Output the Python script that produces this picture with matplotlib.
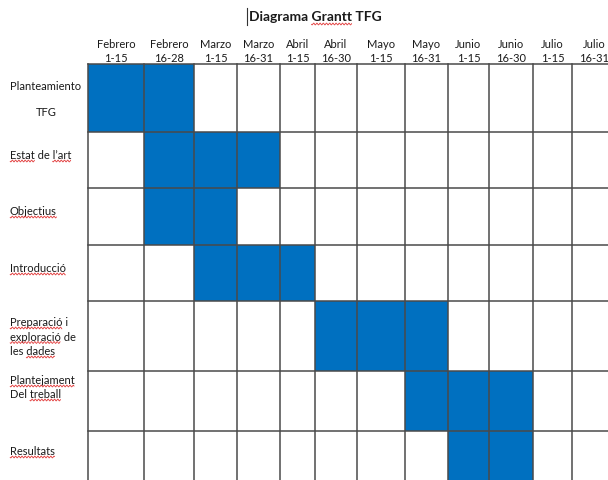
import numpy as np
import matplotlib
matplotlib.use("Agg")
import matplotlib.pyplot as plt
from matplotlib.textpath import TextToPath
from matplotlib.font_manager import FontProperties

# --- schedule data ---
periods = ["Febrero", "Febrero", "Marzo", "Marzo", "Abril", "Abril",
           "Mayo", "Mayo", "Junio", "Junio", "Julio", "Julio"]
ranges = ["1-15", "16-28", "1-15", "16-31", "1-15", "16-30",
          "1-15", "16-31", "1-15", "16-30", "1-15", "16-31"]
tasks = ["Planteamiento\n\nTFG", "Estat de l\u2019art", "Objectius", "Introducci\u00f3",
         "Preparaci\u00f3 i\nexploraci\u00f3 de\nles dades", "Plantejament\nDel treball",
         "Resultats"]
task_start = [0, 1, 1, 2, 5, 7, 8]      # index of first half-month period
task_length = [2, 3, 2, 3, 3, 3, 2]     # number of half-month periods

# words flagged by the spell checker (red wavy underline)
flagged = ["Estat", "l\u2019art", "Objectius", "Introducci\u00f3", "Preparaci\u00f3",
           "exploraci\u00f3", "dades", "Plantejament", "treball", "Resultats"]

# --- layout (pixel grid of the table) ---
W, H = 608, 481
col_edges = [88, 144, 194, 237, 280, 315, 357, 405, 448, 489, 533, 572, 625]
row_edges = [65, 133, 189, 246, 302, 372, 432, 500]
label_first_y = [86, 156, 212, 269, 323, 381, 452]
label_line_step = [13.5, 14, 14, 14, 14.5, 14, 14]

BLUE = "#0070C0"
GRID = "#4a4a4a"
TXT = "#1a1a1a"
FONT = "Lato"
FS = 8.0

fig = plt.figure(figsize=(W / 100, H / 100), dpi=100)
ax = fig.add_axes([0, 0, 1, 1])
ax.set_xlim(0, W)
ax.set_ylim(H, 0)
ax.axis("off")

prop = FontProperties(family=FONT, size=FS)
t2p = TextToPath()


def text_px_width(s, fp):
    w, h, d = t2p.get_text_width_height_descent(s, fp, ismath=False)
    return w * 100 / 72.0


def wavy(x0, x1, y):
    xs = np.linspace(x0, x1, max(int((x1 - x0) * 3), 4))
    ys = y + 0.9 * np.sin(2 * np.pi * (xs - x0) / 3.2)
    ax.plot(xs, ys, color="#e23b3b", lw=0.6, solid_capstyle="butt", zorder=5)


# bars
for i, (s, n) in enumerate(zip(task_start, task_length)):
    cells = [(col_edges[j], col_edges[j + 1] - col_edges[j]) for j in range(s, s + n)]
    ax.broken_barh(cells, (row_edges[i], row_edges[i + 1] - row_edges[i]),
                   facecolors=BLUE, edgecolor="none", zorder=2)

# table grid
for x in col_edges:
    ax.plot([x, x], [row_edges[0], row_edges[-1]], color=GRID, lw=1.1, zorder=3)
for y in row_edges:
    ax.plot([col_edges[0], col_edges[-1]], [y, y], color=GRID, lw=1.1, zorder=3)

# column headers
for j, (p, r) in enumerate(zip(periods, ranges)):
    cx = (col_edges[j] + col_edges[j + 1]) / 2
    if j == len(periods) - 1:
        cx = col_edges[j] + 22
    ax.text(cx, 44, p, ha="center", va="center", fontsize=FS, family=FONT, color=TXT)
    ax.text(cx, 58, r, ha="center", va="center", fontsize=FS, family=FONT, color=TXT)

# task labels
for i, t in enumerate(tasks):
    lines = t.split("\n")
    for k, line in enumerate(lines):
        y = label_first_y[i] + k * label_line_step[i]
        if not line:
            continue
        if i == 0:
            ax.text(46, y, line, ha="center", va="center",
                    fontsize=FS, family=FONT, color=TXT)
            continue
        x0 = 10
        ax.text(x0, y, line, ha="left", va="center", fontsize=FS, family=FONT, color=TXT)
        for word in flagged:
            pos = line.find(word)
            if pos >= 0:
                a = x0 + text_px_width(line[:pos], prop) if pos else x0
                b = x0 + text_px_width(line[:pos + len(word)], prop)
                wavy(a, b, y + 6)

# title
title_a = "Diagrama "
title_b = "Grantt"
full = "Diagrama Grantt TFG"
tprop = FontProperties(family=FONT, size=10, weight="bold")
ax.text(315, 17, full, ha="center", va="center", fontsize=10, family=FONT,
        fontweight="bold", color=TXT)
tw = text_px_width(full, tprop)
tx0 = 315 - tw / 2
ga = tx0 + text_px_width(title_a, tprop)
gb = tx0 + text_px_width(title_a + title_b, tprop)
wavy(ga, gb, 25)
ax.plot([tx0 - 2, tx0 - 2], [9, 26], color="#333333", lw=0.8)

fig.savefig("out.png", dpi=100)
